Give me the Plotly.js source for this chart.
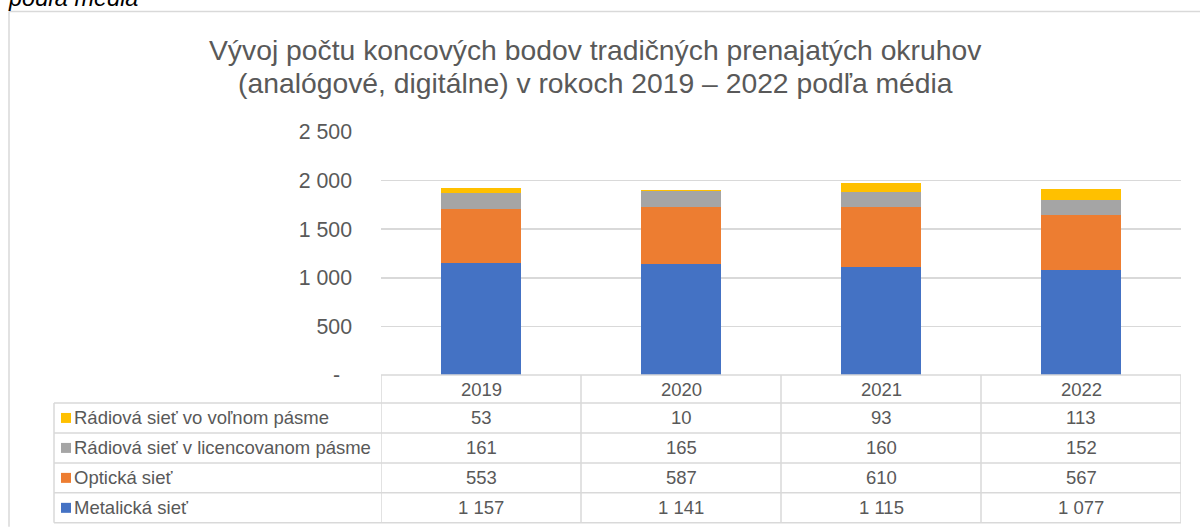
<!DOCTYPE html>
<html>
<head>
<meta charset="utf-8">
<script src="https://cdn.plot.ly/plotly-3.0.1.min.js"></script>
<style>
html,body{margin:0;padding:0;background:#fff;}
#chart{width:1200px;height:527px;}
</style>
</head>
<body>
<div id="chart"></div>
<script>
// ---- data ----
const years = ["2019", "2020", "2021", "2022"];
const seriesNames = ["Metalická sieť", "Optická sieť", "Rádiová sieť v licencovanom pásme", "Rádiová sieť vo voľnom pásme"];
const metalicka = [1157, 1141, 1115, 1077];
const opticka = [553, 587, 610, 567];
const radioLicencovane = [161, 165, 160, 152];
const radioVolne = [53, 10, 93, 113];
const seriesColors = ["#4472C4", "#ED7D31", "#A5A5A5", "#FFC000"];
const yTickVals = [0, 500, 1000, 1500, 2000, 2500];
const yTickText = ["-\u00a0\u00a0", "500", "1 000", "1 500", "2 000", "2 500"];
const titleLines = ["Vývoj počtu koncových bodov tradičných prenajatých okruhov", "(analógové, digitálne) v rokoch 2019 – 2022 podľa média"];
const captionText = "podľa média";

const seriesValues = [metalicka, opticka, radioLicencovane, radioVolne];

// ---- layout geometry (pixels) ----
const W = 1200, H = 527;
const plotL = 381, plotR = 1181, plotT = 131.7, plotB = 375;
const plotW = plotR - plotL, plotH = plotB - plotT;
const px2x = px => (px - plotL) / plotW;
const py2y = py => (plotB - py) / plotH;

const textColor = "#595959";
const lineColor = "#d9d9d9";
const fontFam = "Liberation Sans, Arial, sans-serif";
const tableFont = 18.5;

function fmt(v) {
  return String(v).replace(/\B(?=(\d{3})+(?!\d))/g, " ");
}

const traces = seriesValues.map((vals, i) => ({
  type: "bar",
  name: seriesNames[i],
  x: years,
  y: vals,
  marker: {color: seriesColors[i], line: {width: 0}},
  hoverinfo: "x+y+name"
}));

// table geometry
const headerTop = 375, rowH = 30, firstRowTop = 403;
const tableBottom = firstRowTop + 4 * rowH;
const legendLeft = 54;

const shapes = [];
const annotations = [];

// chart border (top and left)
shapes.push({type: "line", xref: "paper", yref: "paper", x0: px2x(9), x1: px2x(1200), y0: py2y(11), y1: py2y(11), line: {color: lineColor, width: 1.5}});
shapes.push({type: "line", xref: "paper", yref: "paper", x0: px2x(9), x1: px2x(9), y0: py2y(11), y1: py2y(527), line: {color: lineColor, width: 1.5}});

// table horizontal lines
shapes.push({type: "line", xref: "paper", yref: "paper", x0: 0, x1: 1, y0: py2y(headerTop), y1: py2y(headerTop), line: {color: lineColor, width: 1.5}});
for (let r = 0; r <= 4; r++) {
  const yy = firstRowTop + r * rowH;
  shapes.push({type: "line", xref: "paper", yref: "paper", x0: px2x(legendLeft), x1: 1, y0: py2y(yy), y1: py2y(yy), line: {color: lineColor, width: 1.5}});
}
// table vertical lines
shapes.push({type: "line", xref: "paper", yref: "paper", x0: px2x(legendLeft), x1: px2x(legendLeft), y0: py2y(firstRowTop), y1: py2y(tableBottom), line: {color: lineColor, width: 1.5}});
for (let c = 0; c <= years.length; c++) {
  const xx = c - 0.5;
  shapes.push({type: "line", xref: "x", yref: "paper", x0: xx, x1: xx, y0: py2y(headerTop), y1: py2y(tableBottom), line: {color: lineColor, width: 1.5}});
}

// header (years)
years.forEach((yr, c) => {
  annotations.push({xref: "x", yref: "paper", x: c, y: py2y((headerTop + firstRowTop) / 2 + 1), text: yr, showarrow: false, xanchor: "center", yanchor: "middle", font: {size: tableFont, color: textColor, family: fontFam}});
});

// rows: top row is last series
const rowOrder = [3, 2, 1, 0];
rowOrder.forEach((si, r) => {
  const top = firstRowTop + r * rowH;
  const mid = top + rowH / 2;
  // legend key
  shapes.push({type: "rect", xref: "paper", yref: "paper", x0: px2x(61), x1: px2x(71), y0: py2y(mid - 5), y1: py2y(mid + 5), fillcolor: seriesColors[si], line: {width: 0}});
  annotations.push({xref: "paper", yref: "paper", x: px2x(72), y: py2y(mid), text: seriesNames[si], showarrow: false, xanchor: "left", yanchor: "middle", font: {size: tableFont, color: textColor, family: fontFam}});
  seriesValues[si].forEach((v, c) => {
    annotations.push({xref: "x", yref: "paper", x: c, y: py2y(mid), text: fmt(v), showarrow: false, xanchor: "center", yanchor: "middle", font: {size: tableFont, color: textColor, family: fontFam}});
  });
});

// title (two lines)
const titleY = [50, 83];
titleLines.forEach((t, i) => {
  annotations.push({xref: "paper", yref: "paper", x: px2x(595), y: py2y(titleY[i]), text: t, showarrow: false, xanchor: "center", yanchor: "middle", align: "center", font: {size: 28.3, color: textColor, family: fontFam}});
});
// cut-off caption at top left (partly outside the picture, as in the reference)
annotations.push({xref: "paper", yref: "paper", x: px2x(6), y: py2y(-2), text: "<i>" + captionText + "</i>", showarrow: false, xanchor: "left", yanchor: "middle", font: {size: 23.5, color: "#000000", family: fontFam}});

const layout = {
  width: W, height: H,
  margin: {l: plotL, r: W - plotR, t: plotT, b: H - plotB, pad: 0},
  paper_bgcolor: "#ffffff",
  plot_bgcolor: "#ffffff",
  barmode: "stack",
  bargap: 0.6,
  showlegend: false,
  xaxis: {type: "category", range: [-0.5, 3.5], showticklabels: false, showgrid: false, zeroline: false, showline: false, ticks: "", fixedrange: true},
  yaxis: {range: [0, 2500], tickvals: yTickVals, ticktext: yTickText, showgrid: true, gridcolor: lineColor, gridwidth: 1.5, zeroline: false, showline: false, ticks: "", ticklabelstandoff: 28, tickfont: {size: 21.3, color: textColor, family: fontFam}, fixedrange: true},
  shapes: shapes,
  annotations: annotations,
  font: {family: fontFam, color: textColor}
};

Plotly.newPlot("chart", traces, layout, {displayModeBar: false, staticPlot: true});
</script>
</body>
</html>
